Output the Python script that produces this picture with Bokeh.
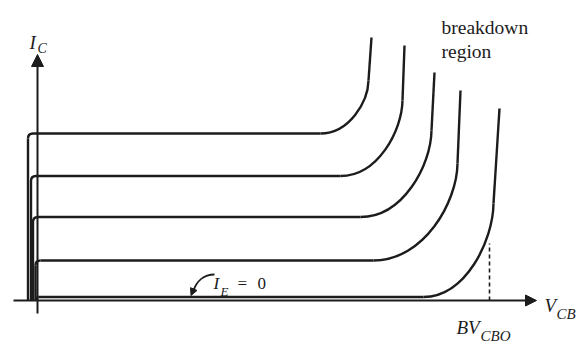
from bokeh.plotting import figure
from bokeh.models import Arrow, NormalHead, Range1d
from bokeh.embed import file_html
from bokeh.resources import INLINE
from bokeh.core.properties import value

# ---- data (V_CB and I_C in arbitrary drawing units) ----
curve_names = ["I_E4", "I_E3", "I_E2", "I_E1", "I_E=0"]
levels = [16.7, 12.45, 8.35, 4.0, 0.35]        # flat (active-region) collector current
v_start = [-0.95, -0.65, -0.45, -0.2, -0.05]   # small negative V_CB where current starts
v_knee = [28.3, 30.3, 32.3, 33.6, 38.6]        # V_CB where avalanche starts
v_bd = [33.1, 36.5, 39.4, 42.0, 45.6]          # V_CB where curve becomes vertical
i_bd = [22.0, 20.0, 17.0, 13.7, 9.7]           # I_C at that point
v_top = [33.4, 36.7, 39.7, 42.3, 46.2]         # end of the drawn curve
i_top = [26.3, 25.5, 22.8, 21.0, 19.2]
bv_cbo = 45.2                                  # BV_CBO marker
bv_cbo_i = 5.7

ink = "#1c1c1c"

p = figure(width=587, height=342, x_range=Range1d(-3.7, 55.0), y_range=Range1d(-4.2, 30.0),
           output_backend="svg", toolbar_location=None, min_border=0,
           x_axis_location=None, y_axis_location=None)
p.grid.visible = False
p.outline_line_color = None
p.background_fill_color = "white"
p.border_fill_color = "white"

def X(px):
    return (px - 37) / 10.0

def Y(py):
    return (300 - py) / 10.0

# axes with arrows
p.add_layout(Arrow(end=NormalHead(size=11, fill_color=ink, line_color=ink, line_width=1),
                   x_start=X(13), y_start=0, x_end=X(536), y_end=0,
                   line_color=ink, line_width=2))
p.add_layout(Arrow(end=NormalHead(size=12, fill_color=ink, line_color=ink, line_width=1),
                   x_start=0, y_start=Y(313), x_end=0, y_end=Y(54),
                   line_color=ink, line_width=2))

# characteristic curves
k = 0.6
for i in range(len(levels)):
    L = levels[i]
    xv = v_start[i]
    r = min(0.5, L * 0.5)
    p.line([xv, xv], [0, L - r], line_color=ink, line_width=2.4)
    p.quadratic(x0=[xv], y0=[L - r], x1=[xv + r], y1=[L], cx=[xv], cy=[L],
                line_color=ink, line_width=2.4)
    p.line([xv + r, v_knee[i]], [L, L], line_color=ink, line_width=2.4)
    p.bezier(x0=[v_knee[i]], y0=[L], x1=[v_bd[i]], y1=[i_bd[i]],
             cx0=[v_knee[i] + k * (v_bd[i] - v_knee[i])], cy0=[L],
             cx1=[v_bd[i] - 0.05], cy1=[L + k * (i_bd[i] - L)],
             line_color=ink, line_width=2.4)
    p.line([v_bd[i], v_top[i]], [i_bd[i], i_top[i]], line_color=ink, line_width=2.4)

# BV_CBO dashed marker
p.line([bv_cbo, bv_cbo], [0, bv_cbo_i], line_color=ink, line_width=1.6, line_dash="4 3")

# I_E = 0 pointer
p.bezier(x0=[X(214)], y0=[Y(274)], x1=[X(193)], y1=[Y(290)],
         cx0=[X(203)], cy0=[Y(274)], cx1=[X(196)], cy1=[Y(281)],
         line_color=ink, line_width=1.8)
p.add_layout(Arrow(end=NormalHead(size=7, fill_color=ink, line_color=ink, line_width=1),
                   x_start=X(193.5), y_start=Y(288), x_end=X(190.5), y_end=Y(295),
                   line_color=ink, line_width=1.8))

def label(txt, px, py, size, style="italic"):
    p.text(x=[X(px)], y=[Y(py)], text=[txt], text_font=value("Liberation Serif"),
           text_font_size=f"{size}px", text_font_style=style, text_color=ink,
           text_align="left", text_baseline="alphabetic")

label("I", 29, 42, 19)
label("C", 37, 48, 14)
label("V", 544, 305, 19)
label("CB", 556, 313, 15)
label("BV", 456, 327, 19)
label("CBO", 480, 335, 15)
label("I", 213, 283, 17)
label("E", 220, 291, 13)
label("=", 237, 283, 17, "normal")
label("0", 257, 283, 17, "normal")
label("breakdown", 441, 27, 19.5, "normal")
label("region", 441, 51, 19.5, "normal")

open("out.html", "w").write(file_html(p, INLINE))
